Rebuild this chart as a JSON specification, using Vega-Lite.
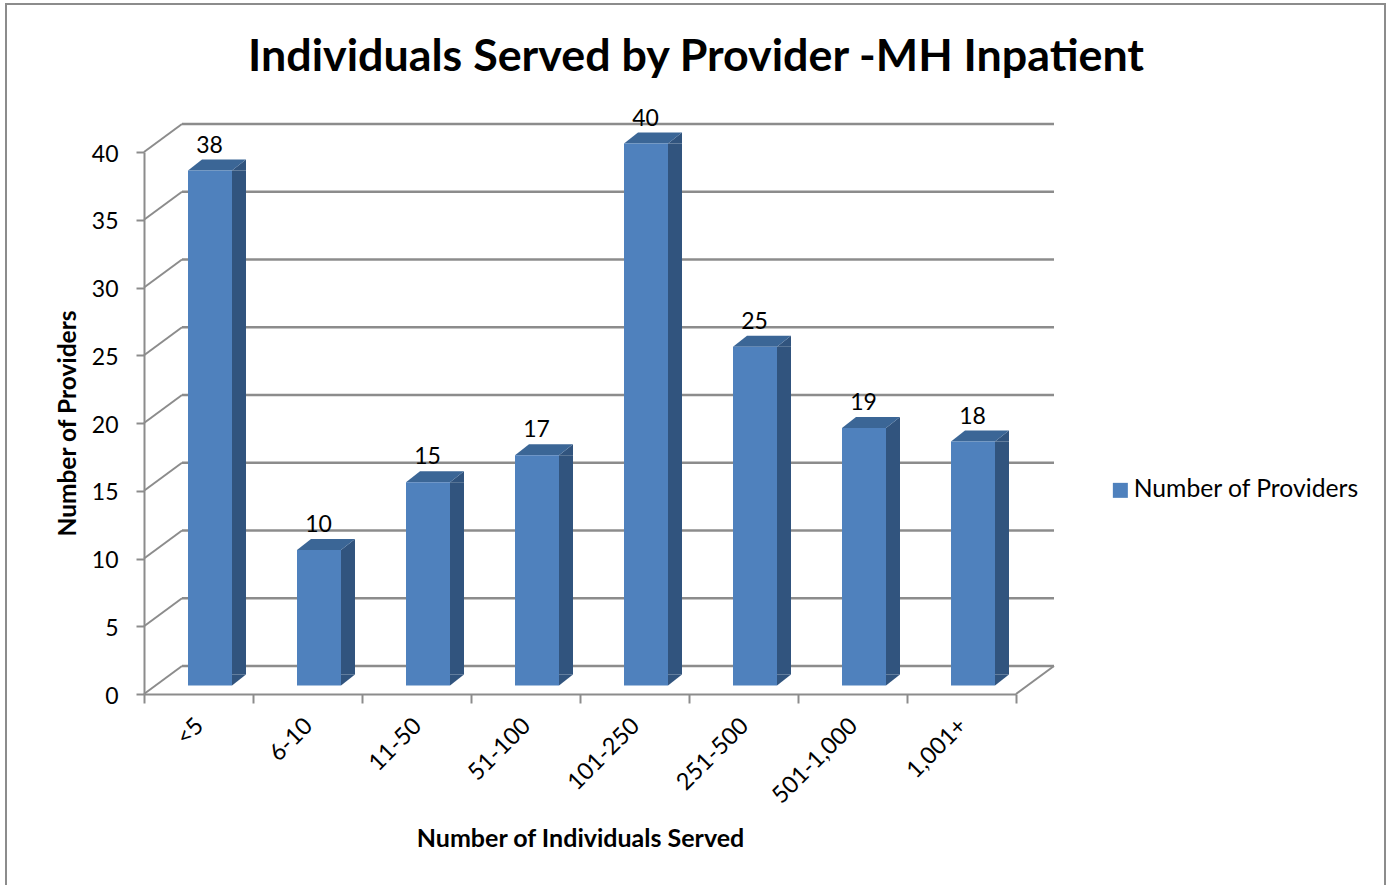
{
"$schema":"https://vega.github.io/schema/vega-lite/v6.json",
"autosize":{"type":"none"},
"padding":{"left":144,"top":152,"right":370,"bottom":191},
"width":872,"height":542,
"background":"white",
"config":{"view":{"stroke":null},"font":"Lato"},
"title":{"text":"Individuals Served by Provider -MH Inpatient","font":"Lato","fontSize":44.8,"fontWeight":"bold","color":"#000000","anchor":"middle","dx":116,"offset":-78},
"datasets":{
"bars":[
{"range":"<5","providers":38,"series":"Number of Providers"},
{"range":"6-10","providers":10,"series":"Number of Providers"},
{"range":"11-50","providers":15,"series":"Number of Providers"},
{"range":"51-100","providers":17,"series":"Number of Providers"},
{"range":"101-250","providers":40,"series":"Number of Providers"},
{"range":"251-500","providers":25,"series":"Number of Providers"},
{"range":"501-1,000","providers":19,"series":"Number of Providers"},
{"range":"1,001+","providers":18,"series":"Number of Providers"}],
"grid":[{"v":0},{"v":5},{"v":10},{"v":15},{"v":20},{"v":25},{"v":30},{"v":35},{"v":40}],
"floor":[{"v":0}]
},
"layer":[
{"data":{"name":"floor"},"mark":{"type":"rect","fill":null,"stroke":"#8c8c8c","strokeWidth":2,"clip":false},
 "encoding":{"x":{"value":-138},"x2":{"value":1241},"y":{"value":-148},"y2":{"value":760}}},
{"data":{"name":"grid"},"mark":{"type":"rule","color":"#8c8c8c","strokeWidth":2.5,"xOffset":38,"x2Offset":38,"yOffset":-28},
 "encoding":{"x":{"value":0},"x2":{"value":872},"y":{"field":"v","type":"quantitative","scale":{"domain":[0,40]}}}},
{"data":{"name":"grid"},"mark":{"type":"rule","color":"#8c8c8c","strokeWidth":2,"y2Offset":-28},
 "encoding":{"x":{"value":0},"x2":{"value":38},"y":{"field":"v","type":"quantitative"},"y2":{"field":"v"}}},
{"data":{"name":"floor"},"mark":{"type":"rule","color":"#8c8c8c","strokeWidth":2,"y2Offset":-28},
 "encoding":{"x":{"value":872},"x2":{"value":910},"y":{"field":"v","type":"quantitative"},"y2":{"field":"v"}}},
{"data":{"name":"bars"},"mark":{"type":"bar","fill":"#31547e","width":14,"xOffset":40.5,"yOffset":-8.5,"y2Offset":-19.5},
 "encoding":{"x":{"field":"range","type":"nominal","sort":null},"y":{"field":"providers","type":"quantitative","stack":null},"y2":{"datum":0}}},
{"data":{"name":"bars"},"mark":{"type":"point","filled":true,"opacity":1,"strokeWidth":0,"size":4,"fill":"#31547e","shape":"M33.5,-8.5L47.5,-19.5L47.5,-8.5Z"},
 "encoding":{"x":{"field":"range","type":"nominal","sort":null},"y":{"field":"providers","type":"quantitative"}}},
{"data":{"name":"bars"},"mark":{"type":"point","filled":true,"opacity":1,"strokeWidth":0,"size":4,"fill":"#31547e","shape":"M33.5,-8.5L47.5,-19.5L33.5,-19.5Z"},
 "encoding":{"x":{"field":"range","type":"nominal","sort":null},"y":{"datum":0,"type":"quantitative"}}},
{"data":{"name":"bars"},"mark":{"type":"point","filled":true,"opacity":1,"strokeWidth":0,"size":4,"fill":"#3b6696","shape":"M-10.5,-8.5L33.5,-8.5L47.5,-19.5L3.5,-19.5Z"},
 "encoding":{"x":{"field":"range","type":"nominal","sort":null},"y":{"field":"providers","type":"quantitative"}}},
{"data":{"name":"bars"},"mark":{"type":"bar","width":44,"xOffset":11.5,"yOffset":-8.5,"y2Offset":-8.5},
 "encoding":{
  "x":{"field":"range","type":"nominal","sort":null,"scale":{"paddingInner":0,"paddingOuter":0},
   "axis":{"title":"Number of Individuals Served","titleFont":"Lato","titleFontSize":25,"titleFontWeight":"bold","titleColor":"#000000","titlePadding":19,
    "labelFont":"Lato","labelFontSize":23.5,"labelColor":"#000000","labelAngle":-45,"labelAlign":"right","labelBaseline":"middle","labelPadding":19,"labelOffset":1,"labelOverlap":false,
    "domainColor":"#8c8c8c","domainWidth":2,"tickColor":"#8c8c8c","tickWidth":2,"tickSize":9,"tickBand":"extent"}},
  "y":{"field":"providers","type":"quantitative","stack":null,"scale":{"domain":[0,40]},
   "axis":{"title":"Number of Providers","titleFont":"Lato","titleFontSize":24.5,"titleFontWeight":"bold","titleColor":"#000000","titlePadding":11,
    "values":[0,5,10,15,20,25,30,35,40],"labelFont":"Lato","labelFontSize":23,"labelColor":"#000000","labelPadding":18,"labelOffset":2,
    "domainColor":"#8c8c8c","domainWidth":2,"tickColor":"#8c8c8c","tickWidth":2,"tickSize":8,"grid":false}},
  "y2":{"datum":0},
  "color":{"field":"series","type":"nominal","scale":{"range":["#4f81bd"]},
   "legend":{"title":null,"orient":"none","legendX":964,"legendY":326,"symbolType":"square","symbolSize":225,"symbolStrokeWidth":0,"labelFont":"Lato","labelFontSize":24.7,"labelColor":"#000000","labelOffset":1,"labelLimit":400}}
 }},
{"data":{"name":"bars"},"mark":{"type":"text","font":"Lato","fontSize":23,"color":"#000000","xOffset":11,"yOffset":-33.5,"baseline":"middle"},
 "encoding":{"x":{"field":"range","type":"nominal","sort":null},"y":{"field":"providers","type":"quantitative"},"text":{"field":"providers","type":"quantitative"}}}
]
}
